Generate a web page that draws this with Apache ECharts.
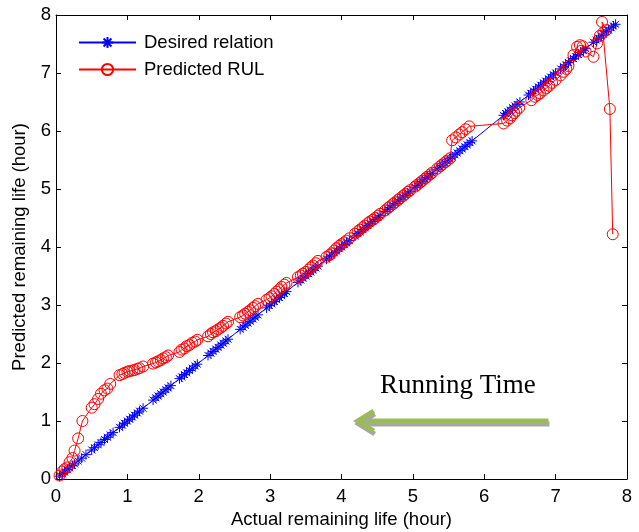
<!DOCTYPE html>
<html>
<head>
<meta charset="utf-8">
<script src="https://cdn.jsdelivr.net/npm/echarts@6/dist/echarts.min.js"></script>
<style>
html,body{margin:0;padding:0;background:#fff;}
#chart{width:639px;height:532px;}
</style>
</head>
<body>
<div id="chart"></div>
<script>
// Desired relation: actual remaining life (hour); desired prediction equals it
const actualRUL = [
  0.05,0.09,0.12,0.16,0.19,0.23,0.26,0.31,0.36,0.42,0.50,0.54,0.59,0.63,0.68,0.72,0.76,0.80,
  0.89,0.93,0.96,1.00,1.03,1.07,1.10,1.14,1.17,1.22,
  1.36,1.40,1.43,1.47,1.50,1.54,1.57,1.61,
  1.73,1.76,1.80,1.83,1.87,1.91,1.95,1.98,
  2.13,2.17,2.20,2.24,2.27,2.31,2.34,2.38,2.41,
  2.58,2.62,2.65,2.69,2.72,2.76,2.79,2.83,
  2.95,2.99,3.02,3.06,3.09,3.13,3.16,3.20,3.23,
  3.39,3.43,3.46,3.50,3.54,3.57,3.60,3.64,3.67,
  3.79,3.83,3.86,3.90,3.93,3.97,4.00,4.04,4.07,4.11,
  4.19,4.23,4.26,4.30,4.33,4.37,4.40,4.44,4.47,4.51,4.54,
  4.61,4.65,4.68,4.72,4.75,4.79,4.82,4.86,4.89,4.93,4.96,
  5.03,5.06,5.10,5.13,5.17,5.20,5.24,5.27,
  5.34,5.38,5.41,5.45,5.48,5.52,5.55,5.59,5.62,5.66,5.69,5.73,5.76,5.80,5.83,
  6.27,6.30,6.33,6.36,6.40,6.43,6.46,6.50,
  6.62,6.65,6.69,6.72,6.76,6.79,6.83,6.86,6.90,6.93,6.97,7.00,
  7.07,7.11,7.14,7.18,7.21,7.25,7.28,7.32,7.35,7.39,7.42,
  7.53,7.57,7.60,7.64,7.67,7.71,7.74,7.78,7.81,7.84
];

// Predicted RUL: actual value (x) and predicted value (y)
const predActual = [
  0.05,0.09,0.12,0.16,0.19,0.23,0.26,0.31,0.37,0.50,0.54,0.59,0.63,0.68,0.72,0.76,
  0.89,0.93,0.96,1.00,1.03,1.07,1.10,1.14,1.17,1.22,
  1.36,1.40,1.43,1.47,1.50,1.54,1.57,
  1.73,1.76,1.80,1.83,1.87,1.91,1.95,1.98,
  2.13,2.17,2.20,2.24,2.27,2.31,2.34,2.38,2.41,
  2.58,2.62,2.65,2.69,2.72,2.76,2.79,2.83,
  2.95,2.99,3.02,3.06,3.09,3.13,3.16,3.20,3.23,
  3.39,3.43,3.46,3.50,3.54,3.57,3.60,3.64,3.67,
  3.79,3.83,3.86,3.90,3.93,3.97,4.00,4.04,4.07,4.11,
  4.19,4.23,4.26,4.30,4.33,4.37,4.40,4.44,4.47,4.51,4.54,
  4.61,4.65,4.68,4.72,4.75,4.79,4.82,4.86,4.89,4.93,4.96,
  5.03,5.06,5.10,5.13,5.17,5.20,5.24,5.27,
  5.34,5.38,5.41,5.45,5.48,5.52,
  5.55,5.60,5.65,5.69,5.74,5.79,
  6.27,6.32,6.36,6.39,6.42,6.45,6.49,
  6.66,6.71,6.75,6.78,6.83,6.87,6.91,6.95,7.00,
  7.07,7.11,7.15,7.18,
  7.25,7.30,7.34,7.38,7.42,7.53,7.58,7.62,7.67,7.71,7.65,7.76,7.80
];
const predRUL = [
  0.06,0.13,0.17,0.20,0.29,0.36,0.49,0.70,1.00,1.23,1.29,1.38,1.47,1.53,1.56,1.64,
  1.79,1.81,1.83,1.85,1.86,1.87,1.88,1.90,1.91,1.94,
  1.99,2.01,2.03,2.05,2.08,2.10,2.13,
  2.19,2.23,2.25,2.29,2.31,2.35,2.37,2.40,
  2.46,2.50,2.53,2.55,2.58,2.61,2.64,2.68,2.71,
  2.79,2.82,2.85,2.88,2.91,2.95,2.98,3.02,
  3.09,3.12,3.15,3.19,3.23,3.27,3.31,3.35,3.38,
  3.48,3.51,3.54,3.57,3.61,3.65,3.68,3.72,3.76,
  3.83,3.86,3.89,3.94,3.98,4.02,4.05,4.08,4.11,4.15,
  4.23,4.27,4.30,4.34,4.37,4.41,4.44,4.47,4.50,4.54,4.57,
  4.63,4.67,4.70,4.74,4.77,4.81,4.84,4.88,4.91,4.95,4.98,
  5.04,5.07,5.11,5.14,5.18,5.21,5.25,5.28,
  5.35,5.39,5.42,5.46,5.49,5.53,
  5.84,5.89,5.94,5.98,6.03,6.08,
  6.13,6.18,6.22,6.27,6.31,6.35,6.40,
  6.53,6.59,6.62,6.65,6.70,6.74,6.78,6.83,6.88,
  6.96,7.02,7.07,7.12,
  7.31,7.45,7.48,7.46,7.37,7.28,7.51,7.64,7.70,7.74,7.88,6.38,4.22
];

const axisTicks = [0,1,2,3,4,5,6,7,8];
const seriesNames = ['Desired relation','Predicted RUL'];
const annotationText = 'Running Time';
const arrowFrom = [6.9, 1.0];
const arrowTo = [4.2, 1.0];
const textAt = [5.63, 1.6];

const FONT = 'Liberation Sans, Arial, Helvetica, sans-serif';
const FS = 18.5;
const chart = echarts.init(document.getElementById('chart'), null, {renderer:'canvas'});

const asterisk = 'path://M5,0L5,10M0,5L10,5M1.5,1.5L8.5,8.5M1.5,8.5L8.5,1.5';

const commonAxis = {
  min: axisTicks[0], max: axisTicks[axisTicks.length-1], interval: 1,
  splitLine:{show:false},
  axisLine:{show:true, onZero:false, lineStyle:{color:'#000', width:1}},
  axisTick:{show:true, inside:true, length:5, lineStyle:{color:'#000', width:1}}
};

chart.setOption({
  animation:false,
  backgroundColor:'#fff',
  grid:{left:56, right:12, top:15, bottom:53, containLabel:false, outerBoundsMode:'none'},
  legend:{
    left:73, top:28, orient:'vertical', padding:5,
    itemWidth:57, itemHeight:14, itemGap:8,
    textStyle:{fontSize:FS, lineHeight:14, fontFamily:FONT, color:'#000', padding:[0,0,0,3]},
    data:seriesNames
  },
  xAxis:[
    Object.assign({type:'value', position:'bottom',
      name:'Actual remaining life (hour)', nameLocation:'middle', nameGap:31,
      nameTextStyle:{fontSize:FS, fontFamily:FONT, color:'#000'},
      axisLabel:{fontSize:FS, fontFamily:FONT, color:'#000', margin:8}
    }, commonAxis),
    Object.assign({type:'value', position:'top', axisLabel:{show:false}}, commonAxis)
  ],
  yAxis:[
    Object.assign({type:'value', position:'left',
      name:'Predicted remaining life (hour)', nameLocation:'middle', nameGap:26,
      nameTextStyle:{fontSize:FS, fontFamily:FONT, color:'#000'},
      axisLabel:{fontSize:FS, fontFamily:FONT, color:'#000', margin:5}
    }, commonAxis),
    Object.assign({type:'value', position:'right', axisLabel:{show:false}}, commonAxis)
  ],
  series:[
    {
      name:seriesNames[0], type:'line',
      data: actualRUL.map(v => [v, v]),
      symbol: asterisk, symbolSize: 10, showAllSymbol:true,
      lineStyle:{color:'#0000ff', width:1},
      itemStyle:{color:'none', borderColor:'#0000ff', borderWidth:1},
      emphasis:{disabled:true}
    },
    {
      name:seriesNames[1], type:'line',
      data: predActual.map((v,i) => [v, predRUL[i]]),
      symbol:'circle', symbolSize: 11, showAllSymbol:true,
      lineStyle:{color:'#ff0000', width:1},
      itemStyle:{color:'none', borderColor:'#ff0000', borderWidth:1},
      emphasis:{disabled:true}
    }
  ]
});

function drawAnnotation(){
  const p0 = chart.convertToPixel({xAxisIndex:0, yAxisIndex:0}, arrowFrom);
  const p1 = chart.convertToPixel({xAxisIndex:0, yAxisIndex:0}, arrowTo);
  const pt = chart.convertToPixel({xAxisIndex:0, yAxisIndex:0}, textAt);
  const head = 18, half = 10;
  const shadow = {shadowColor:'#a6a6a6', shadowOffsetX:1, shadowOffsetY:3, shadowBlur:0};
  chart.setOption({
    graphic:[
      {type:'line', shape:{x1:p0[0], y1:p0[1], x2:p1[0]+3, y2:p1[1]},
        style:Object.assign({stroke:'#9bbb59', lineWidth:5}, shadow), z:10},
      {type:'polyline', shape:{points:[[p1[0]+head, p1[1]-half],[p1[0]+2, p1[1]],[p1[0]+head, p1[1]+half]]},
        style:Object.assign({stroke:'#9bbb59', lineWidth:5, fill:null, lineJoin:'miter'}, shadow), z:10},
      {type:'text', x:pt[0], y:pt[1],
        style:{text:annotationText, font:'27px "Liberation Serif", "Times New Roman", serif', fill:'#000', align:'center', verticalAlign:'middle'}, z:10}
    ]
  });
}
drawAnnotation();
</script>
</body>
</html>
